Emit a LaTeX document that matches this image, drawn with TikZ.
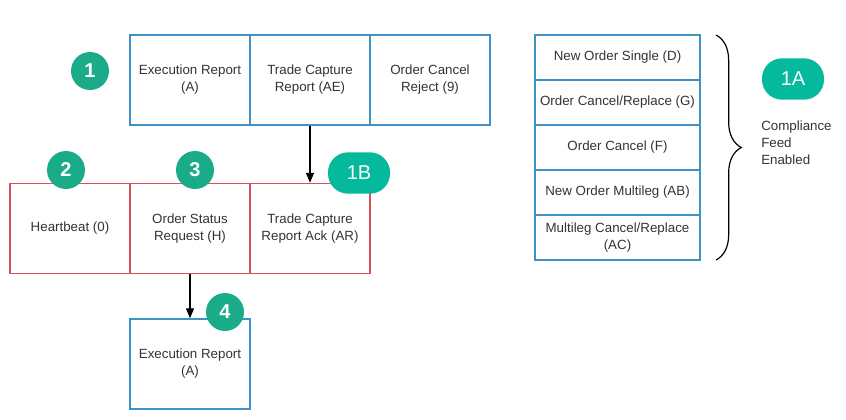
\documentclass[tikz,border=0pt]{standalone}
\usepackage{fontspec}
\setmainfont{Liberation Sans}
\usepackage{xcolor}
\usepackage{tikz}
\usetikzlibrary{arrows.meta}
\usetikzlibrary{decorations.pathreplacing}
\definecolor{msgblue}{HTML}{3D93C6}
\definecolor{msgred}{HTML}{D5525C}
\definecolor{badgegreen}{HTML}{1AAB88}
\definecolor{pillgreen}{HTML}{05BA9C}
\definecolor{msgtext}{HTML}{333333}
\tikzset{
    msg/.style={draw=msgblue, line width=1.1pt, minimum width=90pt, minimum height=67.5pt, inner sep=0pt, align=center, text=msgtext, font=\fontsize{10}{12.7}\selectfont},
    redmsg/.style={msg, draw=msgred},
    row/.style={msg, minimum width=123.75pt, minimum height=33.75pt},
    badge/.style={circle, fill=badgegreen, minimum size=28.5pt, inner sep=0pt, text=white, font=\fontsize{15}{15}\selectfont\bfseries},
    pill/.style={rounded corners=15pt, fill=pillgreen, minimum width=46.5pt, minimum height=31pt, inner sep=0pt, text=white, font=\fontsize{15}{15}\selectfont}}

\begin{document}
\begin{tikzpicture}[x=0.75pt,y=-0.75pt]
\tikzstyle{flow}=[-{Triangle[length=7.5pt,width=6pt]},line width=0.9pt,black]
    \useasboundingbox (0,0) rectangle (846,419);

    % incoming messages
    \node (exec)[msg] at (190,80) {Execution Report\\(A)};
    \node (tcr)[msg] at (310,80) {Trade Capture\\Report (AE)};
    \node (ocr)[msg] at (430,80) {Order Cancel\\Reject (9)};

    % outgoing messages
    \node (hb)[redmsg] at (70,228.5) {Heartbeat (0)};
    \node (osr)[redmsg] at (190,228.5) {Order Status\\Request (H)};
    \node (tcra)[redmsg] at (310,228.5) {Trade Capture\\Report Ack (AR)};

    \node (exec2)[msg] at (190,364) {Execution Report\\(A)};

    % compliance feed
    \node (nos)[row] at (617.5,57.5) {New Order Single (D)};
    \node (ocrp)[row] at (617.5,102.5) {Order Cancel/Replace (G)};
    \node (oc)[row] at (617.5,147.5) {Order Cancel (F)};
    \node (nom)[row] at (617.5,192.5) {New Order Multileg (AB)};
    \node (mcr)[row] at (617.5,237.5) {Multileg Cancel/Replace\\(AC)};

    \draw[flow] (tcr) -- (tcra);
    \draw[flow] (osr) -- (exec2);

    \coordinate (bracetop) at (716,35);
    \coordinate (bracebot) at (716,260);
    \draw[line width=0.9pt, decorate, decoration={brace, amplitude=19pt}] (bracetop) -- (bracebot);

    \node (cfe)[anchor=north west, align=left, inner sep=0pt, text=msgtext, font=\fontsize{10}{12.5}\selectfont] at (761,121) {Compliance\\Feed\\Enabled};

    % badges
    \node (b1)[badge] at (90,71) {1};
    \node (b2)[badge] at (66,170) {2};
    \node (b3)[badge] at (195,170) {3};
    \node (b4)[badge] at (225,312) {4};
    \node (b1a)[pill] at (793,79) {1A};
    \node (b1b)[pill] at (359,173) {1B};
\end{tikzpicture}
\end{document}
